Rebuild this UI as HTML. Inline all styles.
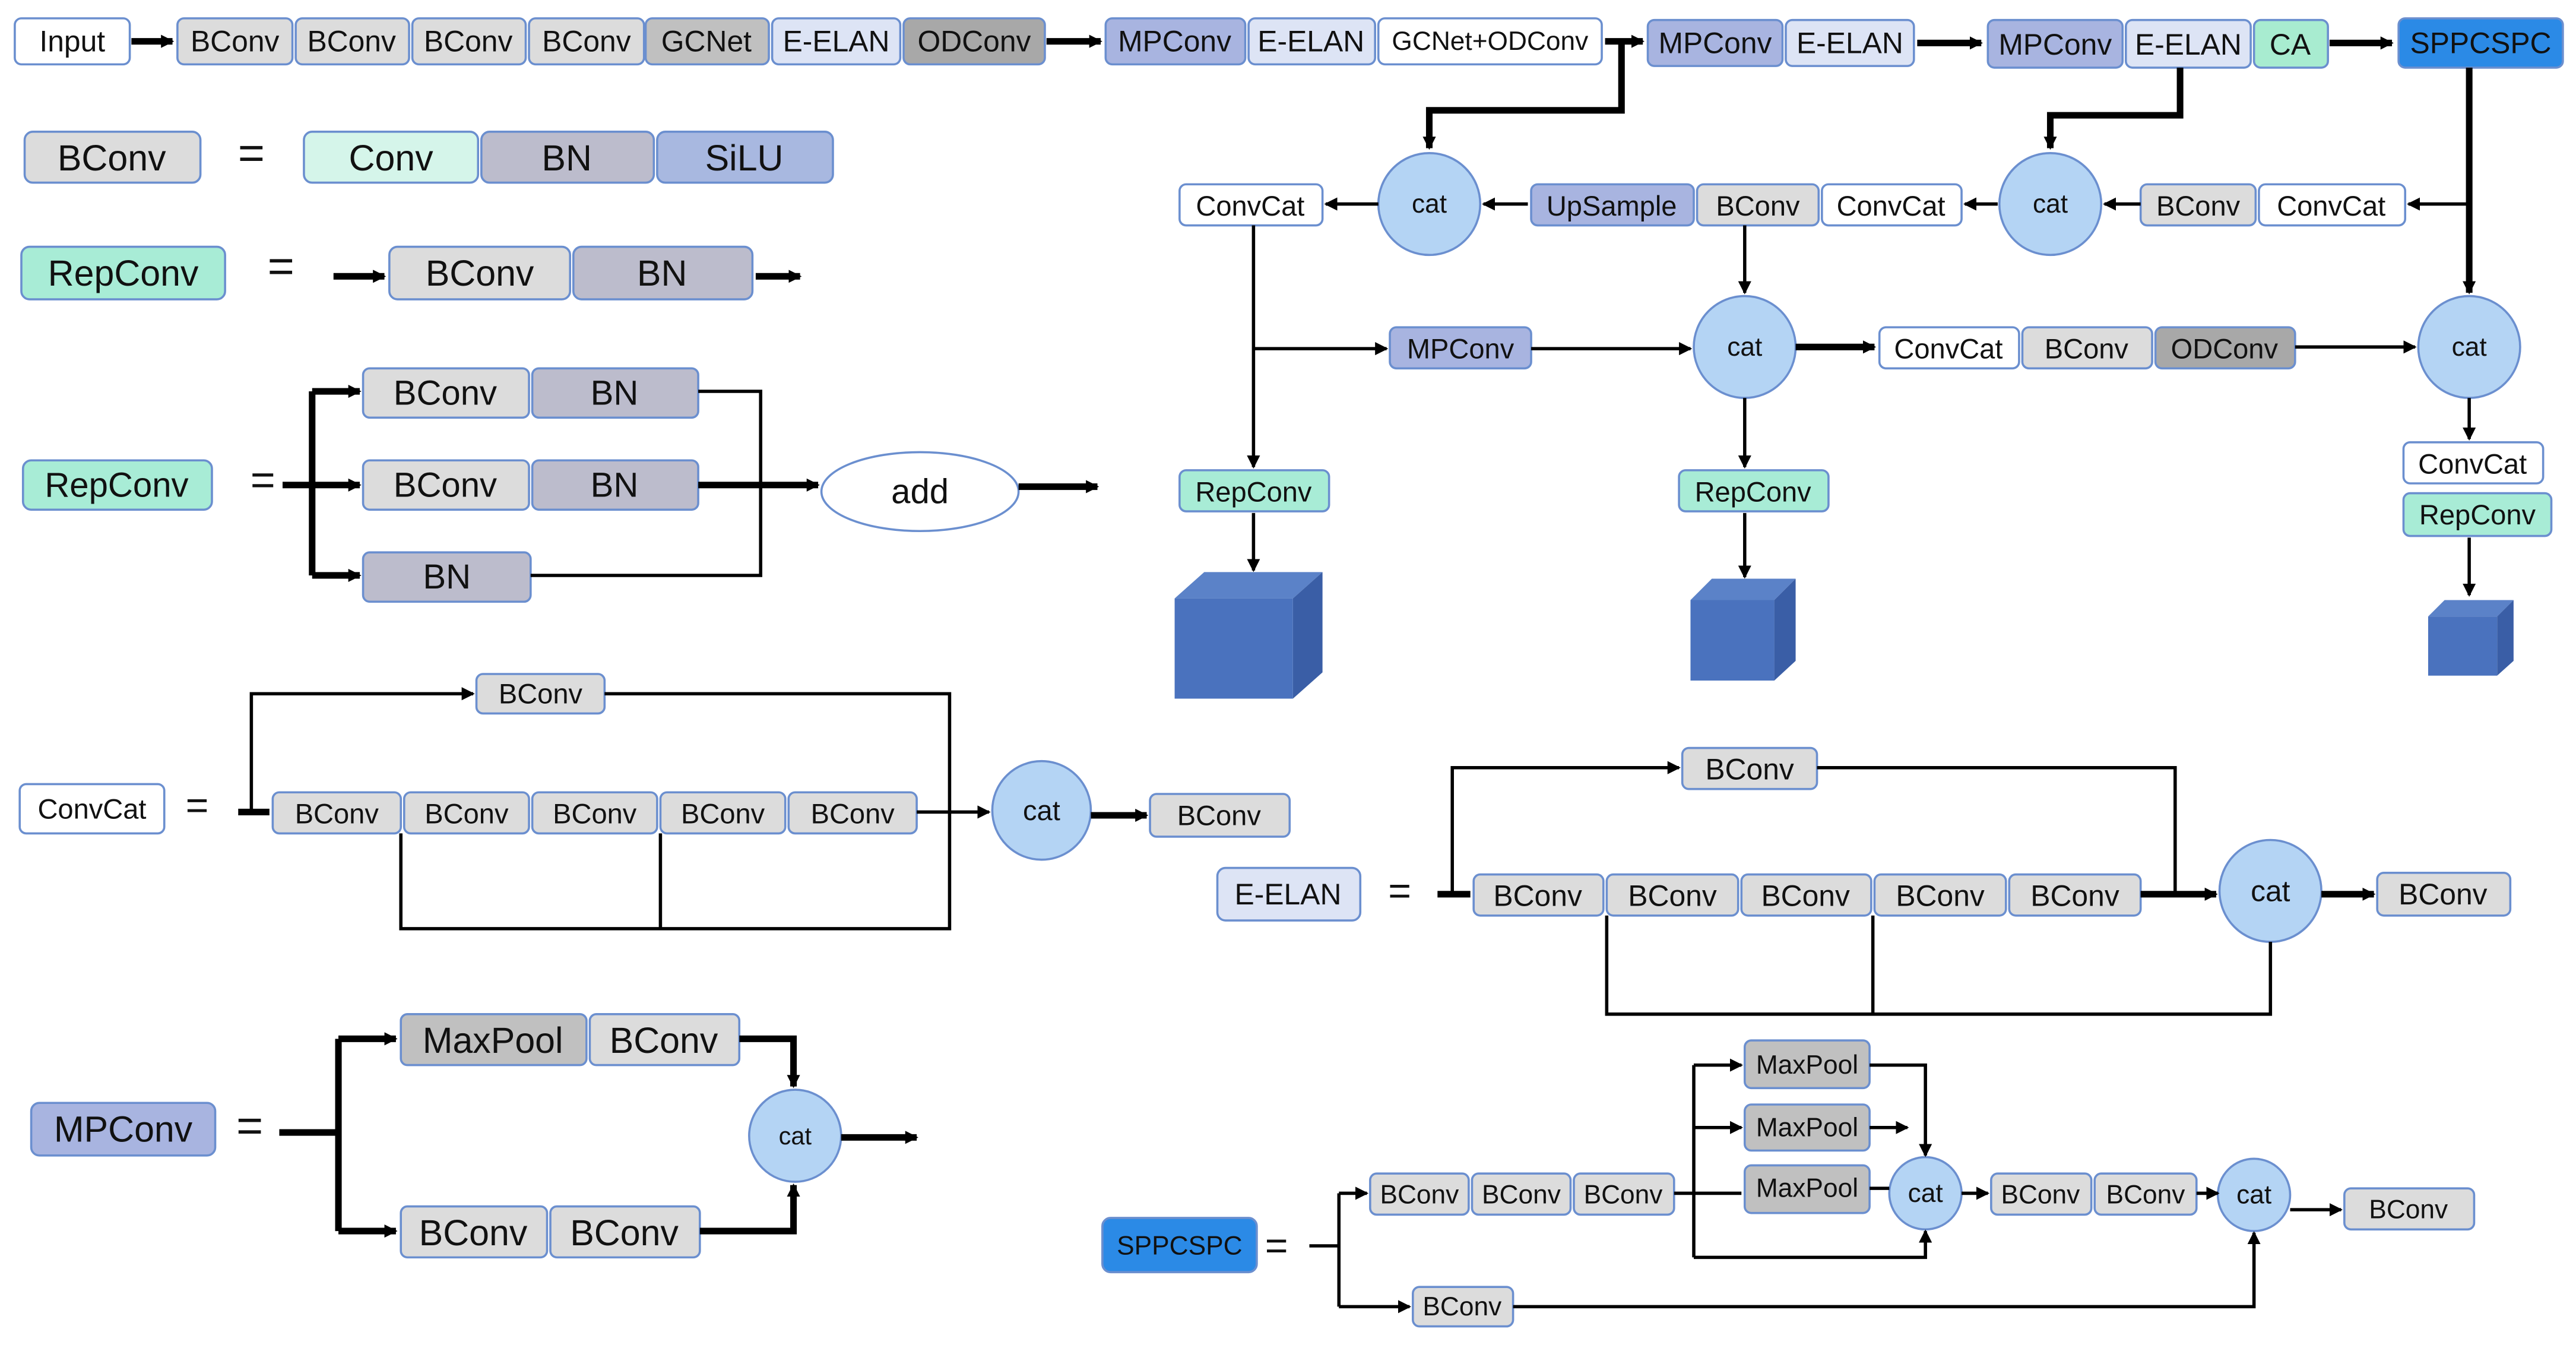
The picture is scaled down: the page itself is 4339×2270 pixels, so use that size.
<!DOCTYPE html>
<html><head><meta charset="utf-8"><style>html,body{margin:0;padding:0;background:#fff}svg{display:block}</style></head><body>
<svg width="4339" height="2270" viewBox="0 0 1568 820" xmlns="http://www.w3.org/2000/svg" font-family="Liberation Sans, sans-serif">
<defs>
<marker id="a" markerWidth="8" markerHeight="8" refX="7" refY="4" orient="auto" markerUnits="userSpaceOnUse"><path d="M0,0 L8,4 L0,8 z" fill="#000"/></marker>
</defs>
<style>
rect.n{stroke:#6b8fcf;stroke-width:1.3}
text{text-anchor:middle;dominant-baseline:central;fill:#111}
.l{stroke:#000;stroke-width:2;fill:none}
.t{stroke:#000;stroke-width:4;fill:none}
.c{fill:#b4d4f4;stroke:#6b8fcf;stroke-width:1.3}
</style>
<g font-size="18">
<rect class="n" x="9" y="11" width="70" height="28" rx="4" fill="#fff"/><text x="44" y="25">Input</text>
<rect class="n" x="108" y="11" width="70" height="28" rx="4" fill="#dcdcdc"/><text x="143" y="25">BConv</text>
<rect class="n" x="180" y="11" width="69" height="28" rx="4" fill="#dcdcdc"/><text x="214" y="25">BConv</text>
<rect class="n" x="251" y="11" width="69" height="28" rx="4" fill="#dcdcdc"/><text x="285" y="25">BConv</text>
<rect class="n" x="322" y="11" width="70" height="28" rx="4" fill="#dcdcdc"/><text x="357" y="25">BConv</text>
<rect class="n" x="393" y="11" width="75" height="28" rx="4" fill="#c0c0c0"/><text x="430" y="25">GCNet</text>
<rect class="n" x="470" y="11" width="78" height="28" rx="4" fill="#dde4f5"/><text x="509" y="25">E-ELAN</text>
<rect class="n" x="550" y="11" width="86" height="28" rx="4" fill="#a8a8a8"/><text x="593" y="25">ODConv</text>
<rect class="n" x="673" y="11" width="85" height="28" rx="4" fill="#a8b4e0"/><text x="715" y="25">MPConv</text>
<rect class="n" x="760" y="11" width="77" height="28" rx="4" fill="#dde4f5"/><text x="798" y="25">E-ELAN</text>
<rect class="n" x="839" y="11" width="136" height="28" rx="4" fill="#fff"/><text x="907" y="25" font-size="16">GCNet+ODConv</text>
<rect class="n" x="1003" y="12" width="82" height="28" rx="4" fill="#a8b4e0"/><text x="1044" y="26">MPConv</text>
<rect class="n" x="1087" y="12" width="78" height="28" rx="4" fill="#dde4f5"/><text x="1126" y="26">E-ELAN</text>
<rect class="n" x="1210" y="12" width="82" height="29" rx="4" fill="#a8b4e0"/><text x="1251" y="27">MPConv</text>
<rect class="n" x="1294" y="12" width="76" height="29" rx="4" fill="#dde4f5"/><text x="1332" y="27">E-ELAN</text>
<rect class="n" x="1372" y="12" width="45" height="29" rx="4" fill="#a8ecd0"/><text x="1394" y="27">CA</text>
<rect class="n" x="1460" y="11" width="100" height="30" rx="4" fill="#2b8ae6"/><text x="1510" y="26">SPPCSPC</text>
</g>
<path class="t" d="M80,25 L105,25" marker-end="url(#a)"/>
<path class="t" d="M637,25 L670,25" marker-end="url(#a)"/>
<path class="t" d="M977,25 L1000,25" marker-end="url(#a)"/>
<path class="t" d="M1167,26 L1206,26" marker-end="url(#a)"/>
<path class="t" d="M1418,26 L1456,26" marker-end="url(#a)"/>

<g font-size="22">
<rect class="n" x="15" y="80" width="107" height="31" rx="5" fill="#dcdcdc"/><text x="68" y="96">BConv</text>
<text x="153" y="93" font-size="28">=</text>
<rect class="n" x="185" y="80" width="106" height="31" rx="5" fill="#d5f5ea"/><text x="238" y="96">Conv</text>
<rect class="n" x="293" y="80" width="105" height="31" rx="5" fill="#bcbccc"/><text x="345" y="96">BN</text>
<rect class="n" x="400" y="80" width="107" height="31" rx="5" fill="#a8b8e0"/><text x="453" y="96">SiLU</text>
<rect class="n" x="13" y="150" width="124" height="32" rx="5" fill="#a8ecd6"/><text x="75" y="166">RepConv</text>
<text x="171" y="162" font-size="28">=</text>
<rect class="n" x="237" y="150" width="110" height="32" rx="5" fill="#dcdcdc"/><text x="292" y="166">BConv</text>
<rect class="n" x="349" y="150" width="109" height="32" rx="5" fill="#bcbccc"/><text x="403" y="166">BN</text>
</g>
<path class="t" d="M203,168 L234,168" marker-end="url(#a)"/>
<path class="t" d="M460,168 L487,168" marker-end="url(#a)"/>

<g font-size="21">
<rect class="n" x="14" y="280" width="115" height="30" rx="5" fill="#a8ecd6"/><text x="71" y="295">RepConv</text>
<text x="160" y="292" font-size="26">=</text>
<rect class="n" x="221" y="224" width="101" height="30" rx="4" fill="#dcdcdc"/><text x="271" y="239">BConv</text>
<rect class="n" x="324" y="224" width="101" height="30" rx="4" fill="#bcbccc"/><text x="374" y="239">BN</text>
<rect class="n" x="221" y="280" width="101" height="30" rx="4" fill="#dcdcdc"/><text x="271" y="295">BConv</text>
<rect class="n" x="324" y="280" width="101" height="30" rx="4" fill="#bcbccc"/><text x="374" y="295">BN</text>
<rect class="n" x="221" y="336" width="102" height="30" rx="4" fill="#bcbccc"/><text x="272" y="351">BN</text>
<ellipse cx="560" cy="299" rx="60" ry="24" fill="#fff" stroke="#6b8fcf" stroke-width="1.3"/><text x="560" y="299">add</text>
</g>
<path class="t" d="M172,295 L219,295" marker-end="url(#a)"/>
<path class="t" d="M190,238 L190,350"/>
<path class="t" d="M190,238 L219,238" marker-end="url(#a)"/>
<path class="t" d="M190,350 L219,350" marker-end="url(#a)"/>
<path class="l" d="M425,238 L463,238 L463,350 L323,350" stroke-width="3"/>
<path class="t" d="M425,295 L498,295" marker-end="url(#a)"/>
<path class="t" d="M620,296 L668,296" marker-end="url(#a)"/>

<g font-size="17">
<rect class="n" x="12" y="477" width="88" height="30" rx="4" fill="#fff"/><text x="56" y="492">ConvCat</text>
<text x="120" y="490" font-size="24">=</text>
<rect class="n" x="166" y="482" width="78" height="25" rx="4" fill="#dcdcdc"/><text x="205" y="495">BConv</text>
<rect class="n" x="246" y="482" width="76" height="25" rx="4" fill="#dcdcdc"/><text x="284" y="495">BConv</text>
<rect class="n" x="324" y="482" width="76" height="25" rx="4" fill="#dcdcdc"/><text x="362" y="495">BConv</text>
<rect class="n" x="402" y="482" width="76" height="25" rx="4" fill="#dcdcdc"/><text x="440" y="495">BConv</text>
<rect class="n" x="480" y="482" width="78" height="25" rx="4" fill="#dcdcdc"/><text x="519" y="495">BConv</text>
<rect class="n" x="290" y="410" width="78" height="24" rx="4" fill="#dcdcdc"/><text x="329" y="422">BConv</text>
<circle class="c" cx="634" cy="493" r="30"/><text x="634" y="493">cat</text>
<rect class="n" x="700" y="483" width="85" height="26" rx="4" fill="#dcdcdc"/><text x="742" y="496">BConv</text>
</g>
<path class="t" d="M145,494 L164,494" stroke-width="3"/>
<path class="l" d="M153,494 L153,422 L288,422" marker-end="url(#a)"/>
<path class="l" d="M368,422 L578,422 L578,565 L244,565 L244,507 M402,507 L402,565"/>
<path class="l" d="M558,494 L602,494" marker-end="url(#a)"/>
<path class="t" d="M664,496 L698,496" marker-end="url(#a)" stroke-width="3"/>

<g font-size="22">
<rect class="n" x="19" y="671" width="112" height="32" rx="5" fill="#a8b4e0"/><text x="75" y="687">MPConv</text>
<text x="152" y="685" font-size="28">=</text>
<rect class="n" x="244" y="617" width="113" height="31" rx="4" fill="#c0c0c0"/><text x="300" y="633">MaxPool</text>
<rect class="n" x="359" y="617" width="91" height="31" rx="4" fill="#dcdcdc"/><text x="404" y="633">BConv</text>
<rect class="n" x="244" y="734" width="89" height="31" rx="4" fill="#dcdcdc"/><text x="288" y="750">BConv</text>
<rect class="n" x="335" y="734" width="91" height="31" rx="4" fill="#dcdcdc"/><text x="380" y="750">BConv</text>
<circle class="c" cx="484" cy="691" r="28"/><text x="484" y="691" font-size="15">cat</text>
</g>
<path class="t" d="M170,689 L206,689"/>
<path class="t" d="M206,632 L206,749"/>
<path class="t" d="M206,632 L241,632" marker-end="url(#a)"/>
<path class="t" d="M206,749 L241,749" marker-end="url(#a)"/>
<path class="t" d="M450,632 L483,632 L483,661" marker-end="url(#a)"/>
<path class="t" d="M426,749 L483,749 L483,721" marker-end="url(#a)"/>
<path class="t" d="M512,692 L558,692" marker-end="url(#a)"/>

<g font-size="17">
<rect class="n" x="718" y="112" width="87" height="25" rx="4" fill="#fff"/><text x="761" y="125">ConvCat</text>
<circle class="c" cx="870" cy="124" r="31"/><text x="870" y="124" font-size="16">cat</text>
<rect class="n" x="932" y="112" width="99" height="25" rx="4" fill="#a8b4e0"/><text x="981" y="125">UpSample</text>
<rect class="n" x="1033" y="112" width="74" height="25" rx="4" fill="#dcdcdc"/><text x="1070" y="125">BConv</text>
<rect class="n" x="1109" y="112" width="85" height="25" rx="4" fill="#fff"/><text x="1151" y="125">ConvCat</text>
<circle class="c" cx="1248" cy="124" r="31"/><text x="1248" y="124" font-size="16">cat</text>
<rect class="n" x="1303" y="112" width="70" height="25" rx="4" fill="#dcdcdc"/><text x="1338" y="125">BConv</text>
<rect class="n" x="1375" y="112" width="89" height="25" rx="4" fill="#fff"/><text x="1419" y="125">ConvCat</text>
<rect class="n" x="846" y="199" width="86" height="25" rx="4" fill="#a8b4e0"/><text x="889" y="212">MPConv</text>
<circle class="c" cx="1062" cy="211" r="31"/><text x="1062" y="211" font-size="16">cat</text>
<rect class="n" x="1144" y="199" width="85" height="25" rx="4" fill="#fff"/><text x="1186" y="212">ConvCat</text>
<rect class="n" x="1231" y="199" width="79" height="25" rx="4" fill="#dcdcdc"/><text x="1270" y="212">BConv</text>
<rect class="n" x="1312" y="199" width="85" height="25" rx="4" fill="#a8a8a8"/><text x="1354" y="212">ODConv</text>
<circle class="c" cx="1503" cy="211" r="31"/><text x="1503" y="211" font-size="16">cat</text>
<rect class="n" x="1463" y="269" width="85" height="25" rx="4" fill="#fff"/><text x="1505" y="282">ConvCat</text>
<rect class="n" x="1463" y="300" width="90" height="26" rx="4" fill="#a8ecd6"/><text x="1508" y="313">RepConv</text>
<rect class="n" x="718" y="286" width="91" height="25" rx="4" fill="#a8ecd6"/><text x="763" y="299">RepConv</text>
<rect class="n" x="1022" y="286" width="91" height="25" rx="4" fill="#a8ecd6"/><text x="1067" y="299">RepConv</text>
</g>
<path class="t" d="M987,25 L987,67 L870,67 L870,90" stroke-width="3.5" marker-end="url(#a)"/>
<path class="t" d="M1327,41 L1327,70 L1248,70 L1248,90" stroke-width="3.5" marker-end="url(#a)"/>
<path class="t" d="M1503,41 L1503,178" marker-end="url(#a)"/>
<path class="l" d="M1503,124 L1466,124" marker-end="url(#a)"/>
<path class="l" d="M1303,124 L1281,124" marker-end="url(#a)"/>
<path class="l" d="M1216,124 L1196,124" marker-end="url(#a)"/>
<path class="l" d="M930,124 L903,124" marker-end="url(#a)"/>
<path class="l" d="M839,124 L807,124" marker-end="url(#a)"/>
<path class="l" d="M1062,137 L1062,178" marker-end="url(#a)"/>
<path class="l" d="M763,137 L763,284" marker-end="url(#a)"/>
<path class="l" d="M763,212 L844,212" marker-end="url(#a)"/>
<path class="l" d="M932,212 L1029,212" marker-end="url(#a)"/>
<path class="t" d="M1093,211 L1141,211" stroke-width="3" marker-end="url(#a)"/>
<path class="l" d="M1397,211 L1470,211" marker-end="url(#a)"/>
<path class="l" d="M1503,242 L1503,267" marker-end="url(#a)"/>
<path class="l" d="M1062,242 L1062,284" marker-end="url(#a)"/>
<path class="l" d="M763,312 L763,347" marker-end="url(#a)"/>
<path class="l" d="M1062,312 L1062,351" marker-end="url(#a)"/>
<path class="l" d="M1503,327 L1503,362" marker-end="url(#a)"/>
<g>
<polygon points="715,364 787,364 805,348 733,348" fill="#5b82c8"/><polygon points="787,364 805,348 805,409 787,425" fill="#3a5ea6"/><rect x="715" y="364" width="72" height="61" fill="#4a72be"/>
<polygon points="1029,365 1080,365 1093,352 1042,352" fill="#5b82c8"/><polygon points="1080,365 1093,352 1093,402 1080,414" fill="#3a5ea6"/><rect x="1029" y="365" width="51" height="49" fill="#4a72be"/>
<polygon points="1478,375 1520,375 1530,365 1488,365" fill="#5b82c8"/><polygon points="1520,375 1530,365 1530,402 1520,411" fill="#3a5ea6"/><rect x="1478" y="375" width="42" height="36" fill="#4a72be"/>
</g>

<g font-size="18">
<rect class="n" x="741" y="528" width="87" height="32" rx="5" fill="#dde4f5"/><text x="784" y="544">E-ELAN</text>
<text x="852" y="542" font-size="24">=</text>
<rect class="n" x="897" y="532" width="79" height="25" rx="4" fill="#dcdcdc"/><text x="936" y="545">BConv</text>
<rect class="n" x="978" y="532" width="80" height="25" rx="4" fill="#dcdcdc"/><text x="1018" y="545">BConv</text>
<rect class="n" x="1060" y="532" width="79" height="25" rx="4" fill="#dcdcdc"/><text x="1099" y="545">BConv</text>
<rect class="n" x="1141" y="532" width="80" height="25" rx="4" fill="#dcdcdc"/><text x="1181" y="545">BConv</text>
<rect class="n" x="1223" y="532" width="80" height="25" rx="4" fill="#dcdcdc"/><text x="1263" y="545">BConv</text>
<rect class="n" x="1024" y="455" width="82" height="25" rx="4" fill="#dcdcdc"/><text x="1065" y="468">BConv</text>
<circle class="c" cx="1382" cy="542" r="31"/><text x="1382" y="542">cat</text>
<rect class="n" x="1447" y="531" width="81" height="26" rx="4" fill="#dcdcdc"/><text x="1487" y="544">BConv</text>
</g>
<path class="t" d="M875,544 L895,544" stroke-width="3"/>
<path class="l" d="M884,544 L884,467 L1022,467" marker-end="url(#a)"/>
<path class="l" d="M1106,467 L1324,467 L1324,544"/>
<path class="l" d="M978,557 L978,617 L1382,617 L1382,573 M1140,557 L1140,617"/>
<path class="t" d="M1303,544 L1349,544" stroke-width="3" marker-end="url(#a)"/>
<path class="t" d="M1413,544 L1445,544" stroke-width="3" marker-end="url(#a)"/>

<g font-size="16">
<rect class="n" x="671" y="741" width="94" height="33" rx="5" fill="#2b8ae6"/><text x="718" y="758">SPPCSPC</text>
<text x="777" y="758" font-size="24">=</text>
<rect class="n" x="834" y="714" width="60" height="25" rx="4" fill="#dcdcdc"/><text x="864" y="727">BConv</text>
<rect class="n" x="896" y="714" width="60" height="25" rx="4" fill="#dcdcdc"/><text x="926" y="727">BConv</text>
<rect class="n" x="958" y="714" width="61" height="25" rx="4" fill="#dcdcdc"/><text x="988" y="727">BConv</text>
<rect class="n" x="1062" y="633" width="76" height="29" rx="4" fill="#c0c0c0"/><text x="1100" y="648">MaxPool</text>
<rect class="n" x="1062" y="672" width="76" height="28" rx="4" fill="#c0c0c0"/><text x="1100" y="686">MaxPool</text>
<rect class="n" x="1062" y="709" width="76" height="29" rx="4" fill="#c0c0c0"/><text x="1100" y="723">MaxPool</text>
<circle class="c" cx="1172" cy="726" r="22"/><text x="1172" y="726">cat</text>
<rect class="n" x="1212" y="714" width="61" height="25" rx="4" fill="#dcdcdc"/><text x="1242" y="727">BConv</text>
<rect class="n" x="1275" y="714" width="62" height="25" rx="4" fill="#dcdcdc"/><text x="1306" y="727">BConv</text>
<circle class="c" cx="1372" cy="727" r="22"/><text x="1372" y="727">cat</text>
<rect class="n" x="1427" y="723" width="79" height="25" rx="4" fill="#dcdcdc"/><text x="1466" y="736">BConv</text>
<rect class="n" x="860" y="783" width="61" height="24" rx="4" fill="#dcdcdc"/><text x="890" y="795">BConv</text>
</g>
<path class="l" d="M797,758 L815,758 M815,726 L815,795"/>
<path class="l" d="M815,726 L832,726" marker-end="url(#a)"/>
<path class="l" d="M815,795 L858,795" marker-end="url(#a)"/>
<path class="l" d="M1019,726 L1060,726 M1031,648 L1031,765"/>
<path class="l" d="M1031,648 L1060,648" marker-end="url(#a)"/>
<path class="l" d="M1031,686 L1060,686" marker-end="url(#a)"/>
<path class="l" d="M1138,648 L1172,648 L1172,703" marker-end="url(#a)"/>
<path class="l" d="M1138,686 L1161,686" marker-end="url(#a)"/>
<path class="l" d="M1138,723 L1150,723"/>
<path class="l" d="M1031,765 L1172,765 L1172,749" marker-end="url(#a)"/>
<path class="l" d="M1194,726 L1210,726" marker-end="url(#a)"/>
<path class="l" d="M1337,726 L1350,726" marker-end="url(#a)"/>
<path class="l" d="M1394,736 L1425,736" stroke-width="3" marker-end="url(#a)"/>
<path class="l" d="M921,795 L1372,795 L1372,750" marker-end="url(#a)"/>
</svg>
</body></html>
